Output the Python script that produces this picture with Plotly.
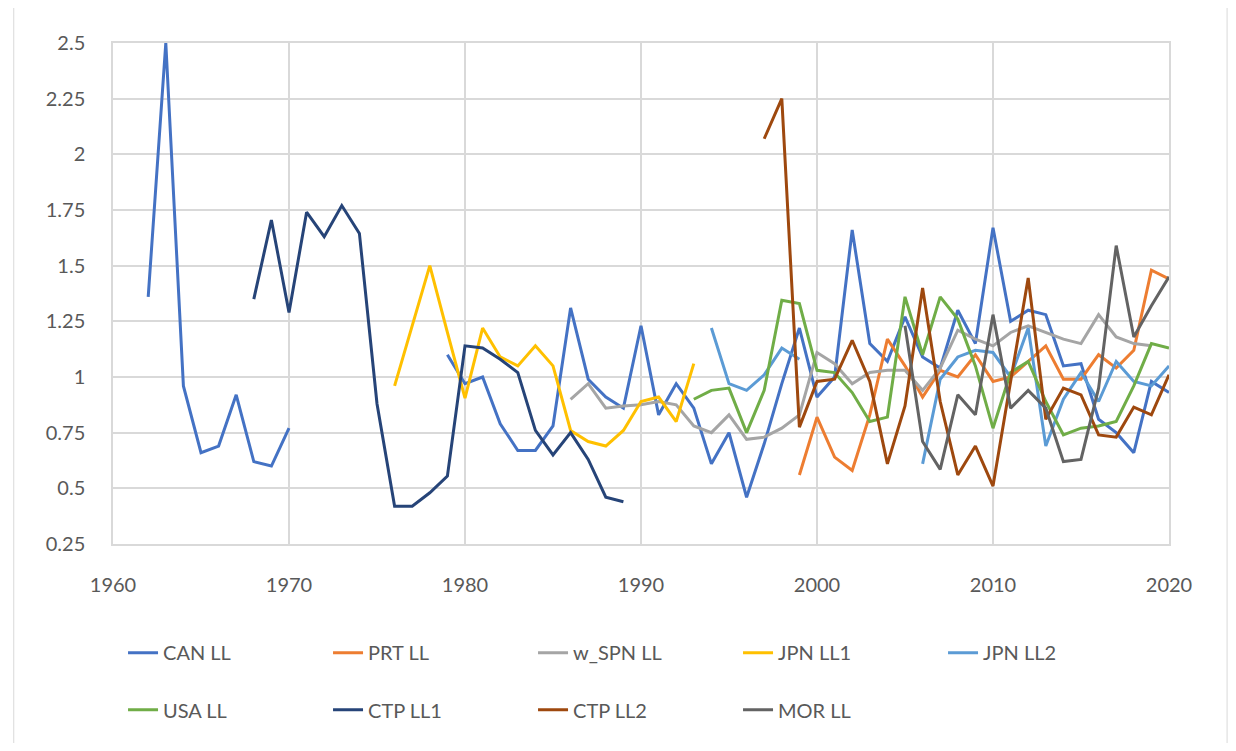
import plotly.graph_objects as go

# ---- data ----
can_start = 1962
can_vals = [1.36, 2.5, 0.96, 0.66, 0.69, 0.92, 0.62, 0.60, 0.77,
            None, None, None, None, None, None, None, None,
            1.10, 0.97, 1.00, 0.79, 0.67, 0.67, 0.78, 1.31, 0.99, 0.91, 0.86,
            1.23, 0.83, 0.97, 0.86, 0.61, 0.75, 0.46, 0.70, 0.97, 1.22,
            0.91, 1.00, 1.66, 1.15, 1.07, 1.27, 1.09, 1.04, 1.30, 1.15,
            1.67, 1.25, 1.30, 1.28, 1.05, 1.06, 0.81, 0.75, 0.66, 0.98, 0.93]

prt_start = 1999
prt_vals = [0.56, 0.82, 0.64, 0.58, 0.83, 1.17, 1.05, 0.91, 1.03, 1.00, 1.10,
            0.98, 1.00, 1.07, 1.14, 0.99, 0.99, 1.10, 1.04, 1.12, 1.48, 1.44]

wspn_start = 1986
wspn_vals = [0.90, 0.97, 0.86, 0.87, 0.875, 0.89, 0.875, 0.78, 0.75, 0.83,
             0.72, 0.73, 0.77, 0.83, 1.11, 1.06, 0.97, 1.02, 1.03, 1.03,
             0.94, 1.04, 1.21, 1.17, 1.14, 1.20, 1.23, 1.20, 1.17, 1.15,
             1.28, 1.18, 1.15, 1.14]

jpn1_start = 1976
jpn1_vals = [0.96, 1.23, 1.50, 1.20, 0.905, 1.22, 1.09, 1.05, 1.14, 1.05,
             0.76, 0.71, 0.69, 0.76, 0.89, 0.91, 0.80, 1.06]

jpn2_start = 1994
jpn2_vals = [1.22, 0.97, 0.94, 1.01, 1.13, 1.08,
             None, None, None, None, None, None,
             0.61, 0.99, 1.09, 1.12, 1.11, 1.00, 1.22, 0.69, 0.90, 1.02,
             0.89, 1.07, 0.98, 0.96, 1.05]

usa_start = 1993
usa_vals = [0.90, 0.94, 0.95, 0.75, 0.94, 1.345, 1.33, 1.03, 1.02, 0.93,
            0.80, 0.82, 1.36, 1.10, 1.36, 1.26, 1.05, 0.77, 1.02, 1.07,
            0.89, 0.74, 0.77, 0.78, 0.80, 0.96, 1.15, 1.13]

ctp1_start = 1968
ctp1_vals = [1.35, 1.705, 1.29, 1.74, 1.63, 1.77, 1.645, 0.88, 0.42, 0.42,
             0.48, 0.555, 1.14, 1.13, 1.08, 1.02, 0.76, 0.65, 0.75, 0.63,
             0.46, 0.44]

ctp2_start = 1997
ctp2_vals = [2.07, 2.25, 0.775, 0.98, 0.99, 1.165, 0.98, 0.61, 0.87, 1.40,
             0.89, 0.56, 0.69, 0.51, 0.98, 1.445, 0.81, 0.95, 0.92, 0.74,
             0.73, 0.865, 0.83, 1.01]

mor_start = 2005
mor_vals = [1.23, 0.71, 0.585, 0.92, 0.83, 1.28, 0.86, 0.94, 0.86, 0.62,
            0.63, 0.95, 1.59, 1.18, 1.32, 1.45]

series_names = ["CAN LL", "PRT LL", "w_SPN LL", "JPN LL1", "JPN LL2",
                "USA LL", "CTP LL1", "CTP LL2", "MOR LL"]
series_starts = [can_start, prt_start, wspn_start, jpn1_start, jpn2_start,
                 usa_start, ctp1_start, ctp2_start, mor_start]
series_values = [can_vals, prt_vals, wspn_vals, jpn1_vals, jpn2_vals,
                 usa_vals, ctp1_vals, ctp2_vals, mor_vals]
series_colors = ["#4472C4", "#ED7D31", "#A5A5A5", "#FFC000", "#5B9BD5",
                 "#70AD47", "#264478", "#9E480E", "#636363"]
legend_rows = ["legend", "legend", "legend", "legend", "legend",
               "legend2", "legend2", "legend2", "legend2"]

y_ticks = [0.25, 0.5, 0.75, 1, 1.25, 1.5, 1.75, 2, 2.25, 2.5]
y_tick_labels = ["0.25", "0.5", "0.75", "1", "1.25", "1.5", "1.75", "2", "2.25", "2.5"]
x_ticks = [1960, 1970, 1980, 1990, 2000, 2010, 2020]

# ---- figure ----
fig = go.Figure()
for name, start, vals, col, lg in zip(series_names, series_starts, series_values,
                                      series_colors, legend_rows):
    fig.add_trace(go.Scatter(
        x=list(range(start, start + len(vals))), y=vals, name=name,
        mode="lines", connectgaps=False, legend=lg,
        line=dict(color=col, width=3),
    ))

font_fam = "Lato, 'Open Sans', sans-serif"
grid_col = "#D9D9D9"
txt_col = "#595959"
legend_common = dict(
    orientation="h", xanchor="left", yanchor="top",
    entrywidth=160, entrywidthmode="pixels",
    font=dict(family=font_fam, size=20, color=txt_col),
    bgcolor="rgba(0,0,0,0)",
)

fig.update_layout(
    width=1220, height=735,
    paper_bgcolor="white", plot_bgcolor="white",
    margin=dict(l=105, r=59, t=35, b=199),
    font=dict(family=font_fam, size=20, color=txt_col),
    showlegend=True,
    legend=dict(x=0.0095, y=-0.178, **legend_common),
    legend2=dict(x=0.0095, y=-0.292, **legend_common),
    xaxis=dict(
        range=[1960, 2020], tickvals=x_ticks, ticktext=[str(v) for v in x_ticks],
        showgrid=True, gridcolor=grid_col, gridwidth=1.5,
        showline=True, linecolor=grid_col, linewidth=1.5, mirror=True,
        zeroline=False, ticks="", ticklen=0, ticklabelstandoff=22,
        tickfont=dict(family=font_fam, size=20, color=txt_col),
    ),
    yaxis=dict(
        range=[0.25, 2.5], tickvals=y_ticks, ticktext=y_tick_labels,
        showgrid=True, gridcolor=grid_col, gridwidth=1.5,
        showline=True, linecolor=grid_col, linewidth=1.5, mirror=True,
        zeroline=False, ticks="", ticklen=0, ticklabelstandoff=22,
        tickfont=dict(family=font_fam, size=20, color=txt_col),
    ),
)

# outer chart-area border
fig.add_shape(type="rect", xref="paper", yref="paper",
              x0=-0.094, x1=1.055, y0=-0.405, y1=1.078,
              line=dict(color="#D9D9D9", width=1), layer="below")

fig.write_html("out.html")
